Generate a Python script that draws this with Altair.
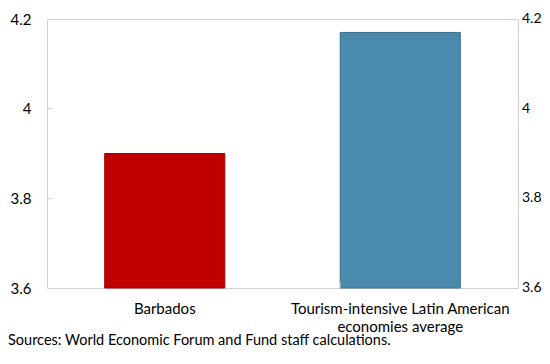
import altair as alt
import pandas as pd

categories = ["Barbados", "Tourism-intensive Latin American economies average"]
values = [3.90, 4.17]
bar_colors = ["#c00000", "#4a8bad"]
bar_strokes = ["#a00000", "#3b6f8c"]
y_ticks = [3.6, 3.8, 4.0, 4.2]
inner_ticks = [3.8, 4.0]
source_text = "Sources: World Economic Forum and Fund staff calculations."

FONT = "Lato"

df = pd.DataFrame({"cat": categories, "value": values})
tick_df = pd.DataFrame({"v": inner_ticks})
rlab_df = pd.DataFrame({"v": y_ticks})
sep_df = pd.DataFrame({"cat": [categories[1]]})
src_df = pd.DataFrame({"t": [source_text]})

ydom = [3.6, 4.2]
label_expr = "datum.label == 'Barbados' ? 'Barbados' : ['Tourism-intensive Latin American', 'economies average']"

x_scale = alt.Scale(domain=categories, paddingInner=0.49, paddingOuter=0.245)
x_axis = alt.Axis(
    title=None, labelAngle=0, ticks=False, domain=False,
    labelFont=FONT, labelFontSize=15, labelColor="#000000", labelLimit=400,
    labelPadding=13, labelExpr=label_expr, labelLineHeight=18,
)
y_scale = alt.Scale(domain=ydom, nice=False, zero=False)
y_axis = alt.Axis(
    title=None, values=y_ticks, orient="left", ticks=False, domain=False,
    grid=False, labelFont=FONT, labelFontSize=15, labelColor="#000000",
    labelPadding=16, labelExpr="format(datum.value, '.2~f')",
)

bars = alt.Chart(df).mark_bar(strokeWidth=1).encode(
    x=alt.X("cat:N", sort=categories, scale=x_scale, axis=x_axis),
    y=alt.Y("value:Q", scale=y_scale, axis=y_axis),
    y2=alt.datum(3.6),
    color=alt.Color("cat:N", scale=alt.Scale(domain=categories, range=bar_colors), legend=None),
    stroke=alt.Stroke("cat:N", scale=alt.Scale(domain=categories, range=bar_strokes), legend=None),
)

right_labels = alt.Chart(rlab_df).mark_text(
    align="left", baseline="middle", font=FONT, fontSize=14, color="#000000", dx=4
).encode(
    y=alt.Y("v:Q", scale=y_scale, axis=y_axis),
    x=alt.value(471),
    text=alt.Text("v:Q", format=".2~f"),
)

inner = alt.Chart(tick_df).mark_rule(color="#d0d0d0", strokeWidth=1).encode(
    y=alt.Y("v:Q", scale=y_scale, axis=y_axis),
    x=alt.value(0),
    x2=alt.value(6),
)

sep = alt.Chart(sep_df).mark_rule(color="#d0d0d0", strokeWidth=1).encode(
    x=alt.X("cat:N", bandPosition=0, sort=categories, scale=x_scale, axis=x_axis),
    y=alt.value(263),
    y2=alt.value(269),
)

src = alt.Chart(src_df).mark_text(
    align="left", baseline="alphabetic", font=FONT, fontSize=14.5, color="#000000"
).encode(text="t:N", x=alt.value(-39), y=alt.value(326))

chart = alt.layer(bars, inner, sep, right_labels, src).properties(
    width=471,
    height=269,
    autosize=alt.AutoSizeParams(type="none"),
    padding={"left": 39, "top": 11, "right": 24, "bottom": 60},
).configure_view(stroke="#d0d0d0", strokeWidth=1)

chart.save("out.html", embed_options={"renderer": "svg", "actions": False})
